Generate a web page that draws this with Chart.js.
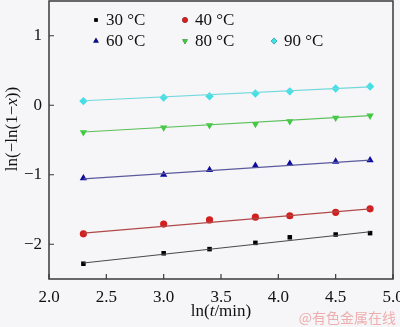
<!DOCTYPE html>
<html>
<head>
<meta charset="utf-8">
<script src="https://cdn.jsdelivr.net/npm/chart.js@4/dist/chart.umd.min.js"></script>
<style>
    html, body { margin: 0; padding: 0; background: #f6f6f8; }
    #wrap { width: 400px; height: 327px; position: relative; }
</style>
</head>
<body>
<div id="wrap"><canvas id="chart"></canvas></div>
<script>
const xValues = [2.3, 3.0, 3.4, 3.8, 4.1, 4.5, 4.8];
const seriesLabels = ['30 °C', '40 °C', '60 °C', '80 °C', '90 °C'];
const y30 = [-2.28, -2.13, -2.07, -1.98, -1.90, -1.86, -1.84];
const y40 = [-1.85, -1.71, -1.65, -1.61, -1.59, -1.54, -1.49];
const y60 = [-1.05, -1.00, -0.93, -0.87, -0.84, -0.81, -0.79];
const y80 = [-0.39, -0.32, -0.29, -0.27, -0.23, -0.18, -0.15];
const y90 = [0.06, 0.11, 0.13, 0.17, 0.20, 0.24, 0.27];

const fitX = [2.3, 4.8];
const fit30 = [-2.27, -1.82];
const fit40 = [-1.84, -1.49];
const fit60 = [-1.06, -0.79];
const fit80 = [-0.385, -0.15];
const fit90 = [0.065, 0.265];

const xTicks = [2.0, 2.5, 3.0, 3.5, 4.0, 4.5, 5.0];
const yTicks = [-2, -1, 0, 1];

const serif = '"Liberation Serif", "DejaVu Serif", serif';

const markerColors = ['#000000', '#d21f1f', '#0c0c9c', '#3ccc3c', '#3fe0e6'];
const lineColors = ['#4a4a4a', '#b04848', '#5a5a9e', '#5cc05c', '#72d8dc'];
const markerStyles = ['rect', 'circle', 'triangle', 'triangle', 'rectRot'];
const markerRot = [0, 0, 0, 180, 0];
const markerSize = [3.2, 3.6, 4.2, 4.2, 4.2];

const pts = ys => xValues.map((x, i) => ({ x: x, y: ys[i] }));
const fitPts = ys => fitX.map((x, i) => ({ x: x, y: ys[i] }));

const seriesData = [y30, y40, y60, y80, y90];
const fitData = [fit30, fit40, fit60, fit80, fit90];

const datasets = [];
fitData.forEach((f, i) => {
    datasets.push({
        label: 'fit ' + seriesLabels[i],
        data: fitPts(f),
        showLine: true,
        borderColor: lineColors[i],
        borderWidth: 1.2,
        pointRadius: 0,
        isFit: true
    });
});
seriesData.forEach((s, i) => {
    datasets.push({
        label: seriesLabels[i],
        data: pts(s),
        showLine: false,
        backgroundColor: markerColors[i],
        borderColor: markerColors[i],
        borderWidth: 0,
        pointStyle: markerStyles[i],
        rotation: markerRot[i],
        pointRadius: markerSize[i]
    });
});

// legend grid positions: [column, row]
const legendSlots = [[0, 0], [1, 0], [0, 1], [1, 1], [2, 1]];

const frame = {
    id: 'frame',
    beforeDraw(chart) {
        const c = chart.ctx;
        c.save();
        c.fillStyle = '#f6f6f8';
        c.fillRect(0, 0, chart.width, chart.height);
        c.restore();
    },
    afterDraw(chart) {
        const c = chart.ctx;
        const a = chart.chartArea;
        const xs = chart.scales.x, ys = chart.scales.y;
        c.save();
        c.strokeStyle = '#3a3a3a';
        c.lineWidth = 1.5;
        c.strokeRect(a.left, a.top, a.right - a.left, a.bottom - a.top);
        c.lineWidth = 1.2;
        c.beginPath();
        xTicks.forEach(v => {
            const px = xs.getPixelForValue(v);
            c.moveTo(px, a.bottom);
            c.lineTo(px, a.bottom - 5);
        });
        yTicks.forEach(v => {
            const py = ys.getPixelForValue(v);
            c.moveTo(a.left, py);
            c.lineTo(a.left + 5, py);
        });
        c.stroke();

        // legend
        c.textBaseline = 'middle';
        c.font = '17px ' + serif;
        chart.data.datasets.forEach(ds => {
            if (ds.isFit) return;
            const k = seriesLabels.indexOf(ds.label);
            const slot = legendSlots[k];
            const mx = 96 + slot[0] * 89;
            const my = 20 + slot[1] * 21;
            Chart.helpers.drawPoint(c, {
                pointStyle: ds.pointStyle,
                rotation: ds.rotation,
                radius: ds.pointRadius * 0.75,
                borderWidth: 0
            }, mx, my);
            c.fillStyle = ds.backgroundColor;
            c.fill();
            c.fillStyle = '#111';
            c.fillText(ds.label, mx + 10, my + 1);
        });

        // axis titles with italic parts
        const drawMixed = (parts, x, y) => {
            let total = 0;
            parts.forEach(p => {
                c.font = (p[1] ? 'italic ' : '') + '17px ' + serif;
                total += c.measureText(p[0]).width;
            });
            let cx = x - total / 2;
            parts.forEach(p => {
                c.font = (p[1] ? 'italic ' : '') + '17px ' + serif;
                c.fillText(p[0], cx, y);
                cx += c.measureText(p[0]).width;
            });
        };
        c.fillStyle = '#111';
        c.textAlign = 'left';
        drawMixed([['ln(', false], ['t', true], ['/min)', false]], (a.left + a.right) / 2, 312);

        c.save();
        c.translate(13, 129);
        c.rotate(-Math.PI / 2);
        drawMixed([['ln(\u2212ln(1\u2212', false], ['x', true], ['))', false]], 0, 0);
        c.restore();

        // watermark
        c.font = '14px "Noto Sans CJK SC", sans-serif';
        c.fillStyle = 'rgba(235, 150, 150, 0.75)';
        c.textAlign = 'right';
        c.fillText('@有色金属在线', 396, 318);
        c.restore();
    }
};

new Chart(document.getElementById('chart'), {
    type: 'scatter',
    data: { datasets: datasets },
    options: {
        responsive: true,
        maintainAspectRatio: false,
        animation: false,
        layout: { autoPadding: false, padding: { top: 1, right: 7, left: 0, bottom: 0 } },
        plugins: {
            legend: { display: false },
            tooltip: { enabled: false }
        },
        scales: {
            x: {
                type: 'linear',
                min: 2,
                max: 5,
                afterBuildTicks: s => { s.ticks = xTicks.map(v => ({ value: v })); },
                afterFit: s => {
                    s.height = 48;
                    s.paddingLeft = 0;
                    s.paddingRight = 0;
                },
                grid: { display: false, drawTicks: false },
                border: { display: false },
                ticks: {
                    padding: 8,
                    color: '#111',
                    maxRotation: 0,
                    font: { family: serif, size: 17 },
                    callback: v => Number(v).toFixed(1)
                }
            },
            y: {
                type: 'linear',
                min: -2.5,
                max: 1.5,
                afterBuildTicks: s => { s.ticks = yTicks.map(v => ({ value: v })); },
                afterFit: s => {
                    s.width = 49;
                    s.paddingTop = 0;
                    s.paddingBottom = 0;
                },
                grid: { display: false, drawTicks: false },
                border: { display: false },
                ticks: {
                    padding: 7,
                    color: '#111',
                    font: { family: serif, size: 17 },
                    callback: v => String(v).replace('-', '\u2212')
                }
            }
        }
    },
    plugins: [frame]
});
</script>
</body>
</html>
